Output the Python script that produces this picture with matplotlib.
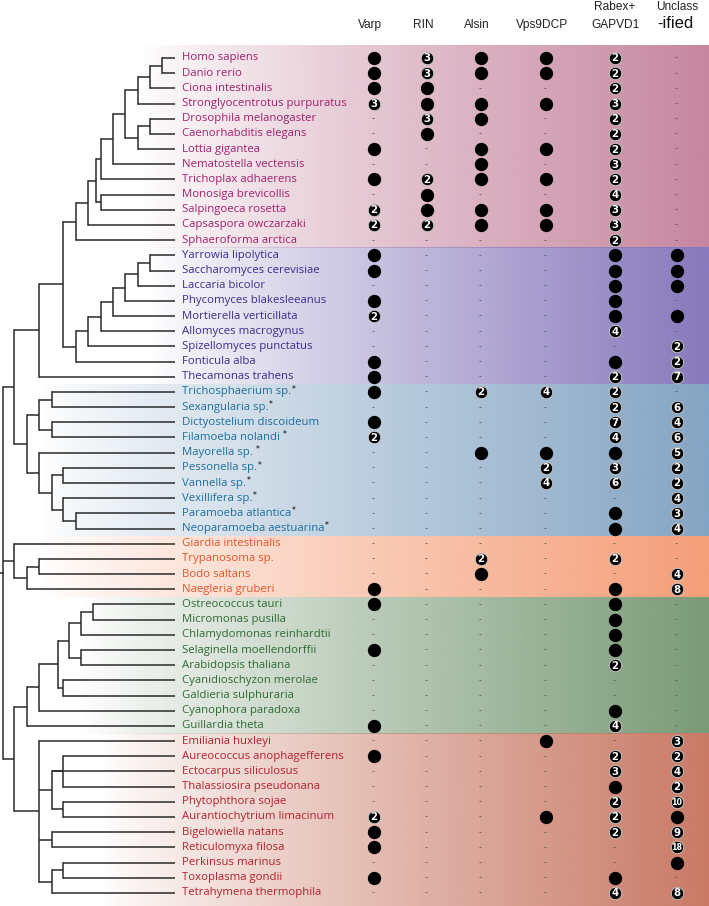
import numpy as np
import matplotlib
matplotlib.use("Agg")
import matplotlib.pyplot as plt
from matplotlib.colors import to_rgb

# ---------------- data ----------------
species = [
    "Homo sapiens", "Danio rerio", "Ciona intestinalis", "Stronglyocentrotus purpuratus",
    "Drosophila melanogaster", "Caenorhabditis elegans", "Lottia gigantea",
    "Nematostella vectensis", "Trichoplax adhaerens", "Monosiga brevicollis",
    "Salpingoeca rosetta", "Capsaspora owczarzaki", "Sphaeroforma arctica",
    "Yarrowia lipolytica", "Saccharomyces cerevisiae", "Laccaria bicolor",
    "Phycomyces blakesleeanus", "Mortierella verticillata", "Allomyces macrogynus",
    "Spizellomyces punctatus", "Fonticula alba", "Thecamonas trahens",
    "Trichosphaerium sp.", "Sexangularia sp.", "Dictyostelium discoideum",
    "Filamoeba nolandi", "Mayorella sp.", "Pessonella sp.", "Vannella sp.",
    "Vexillifera sp.", "Paramoeba atlantica", "Neoparamoeba aestuarina",
    "Giardia intestinalis", "Trypanosoma sp.", "Bodo saltans", "Naegleria gruberi",
    "Ostreococcus tauri", "Micromonas pusilla", "Chlamydomonas reinhardtii",
    "Selaginella moellendorffii", "Arabidopsis thaliana", "Cyanidioschyzon merolae",
    "Galdieria sulphuraria", "Cyanophora paradoxa", "Guillardia theta",
    "Emiliania huxleyi", "Aureococcus anophagefferens", "Ectocarpus siliculosus",
    "Thalassiosira pseudonana", "Phytophthora sojae", "Aurantiochytrium limacinum",
    "Bigelowiella natans", "Reticulomyxa filosa", "Perkinsus marinus",
    "Toxoplasma gondii", "Tetrahymena thermophila",
]
starred = ["Trichosphaerium sp.", "Sexangularia sp.", "Filamoeba nolandi", "Mayorella sp.",
           "Pessonella sp.", "Vannella sp.", "Vexillifera sp.", "Paramoeba atlantica",
           "Neoparamoeba aestuarina"]
star_gap = ["Filamoeba nolandi", "Mayorella sp."]

# 0 = absent ("-"), 1 = present (dot), n>=2 = number of copies
varp = [1, 1, 1, 3, 0, 0, 1, 0, 1, 0, 2, 2, 0,
        1, 1, 0, 1, 2, 0, 0, 1, 1,
        1, 0, 1, 2, 0, 0, 0, 0, 0, 0,
        0, 0, 0, 1,
        1, 0, 0, 1, 0, 0, 0, 0, 1,
        0, 1, 0, 0, 0, 2, 1, 1, 0, 1, 0]
rin = [3, 3, 1, 1, 3, 1, 0, 0, 2, 1, 1, 2, 0,
       0, 0, 0, 0, 0, 0, 0, 0, 0,
       0, 0, 0, 0, 0, 0, 0, 0, 0, 0,
       0, 0, 0, 0,
       0, 0, 0, 0, 0, 0, 0, 0, 0,
       0, 0, 0, 0, 0, 0, 0, 0, 0, 0, 0]
alsin = [1, 1, 0, 1, 1, 0, 1, 1, 1, 0, 1, 1, 0,
         0, 0, 0, 0, 0, 0, 0, 0, 0,
         2, 0, 0, 0, 1, 0, 0, 0, 0, 0,
         0, 2, 1, 0,
         0, 0, 0, 0, 0, 0, 0, 0, 0,
         0, 0, 0, 0, 0, 0, 0, 0, 0, 0, 0]
vps9dcp = [1, 1, 0, 1, 0, 0, 1, 0, 1, 0, 1, 1, 0,
           0, 0, 0, 0, 0, 0, 0, 0, 0,
           4, 0, 0, 0, 1, 2, 4, 0, 0, 0,
           0, 0, 0, 0,
           0, 0, 0, 0, 0, 0, 0, 0, 0,
           1, 0, 0, 0, 0, 1, 0, 0, 0, 0, 0]
rabex = [2, 2, 2, 3, 2, 2, 2, 3, 2, 4, 3, 3, 2,
         1, 1, 1, 1, 1, 4, 0, 1, 2,
         2, 2, 7, 4, 1, 3, 6, 0, 1, 1,
         0, 2, 0, 1,
         1, 1, 1, 1, 2, 0, 0, 1, 4,
         0, 2, 3, 1, 2, 2, 2, 0, 0, 1, 4]
unclassified = [0, 0, 0, 0, 0, 0, 0, 0, 0, 0, 0, 0, 0,
                1, 1, 1, 0, 1, 0, 2, 2, 7,
                0, 6, 4, 6, 5, 2, 2, 4, 3, 4,
                0, 0, 4, 8,
                0, 0, 0, 0, 0, 0, 0, 0, 0,
                3, 2, 4, 2, 10, 1, 9, 18, 1, 0, 8]
columns = ["Varp", "RIN", "Alsin", "Vps9DCP", "Rabex+\nGAPVD1", "Unclass\n-ified"]
column_values = [varp, rin, alsin, vps9dcp, rabex, unclassified]

group_sizes = [13, 9, 10, 4, 9, 11]
group_text_colors = ["#A3206F", "#3B2D8E", "#1E6E9C", "#E4572A", "#2F6B35", "#B3222E"]
group_band_colors = ["#C6869F", "#8779BC", "#84A5C4", "#F59E78", "#7A9B77", "#C97A66"]

# cladogram: (node depth, [children]); leaves are species names
holozoa = (76, [(88, [(96, [(101, [(113, [(125, [
    (138, [(150, [(162, ["Homo sapiens", "Danio rerio"]), "Ciona intestinalis"]),
           "Stronglyocentrotus purpuratus"]),
    (138, [(150, ["Drosophila melanogaster", "Caenorhabditis elegans"]), "Lottia gigantea"])]),
    "Nematostella vectensis"]), "Trichoplax adhaerens"]),
    (101, ["Monosiga brevicollis", "Salpingoeca rosetta"])]),
    "Capsaspora owczarzaki"]), "Sphaeroforma arctica"])
holomycota = (76, [(88, [(101, [(113, [(125, [(138, [(150, ["Yarrowia lipolytica",
    "Saccharomyces cerevisiae"]), "Laccaria bicolor"]), "Phycomyces blakesleeanus"]),
    "Mortierella verticillata"]), "Allomyces macrogynus"]), "Spizellomyces punctatus"]),
    "Fonticula alba"])
amoebozoa = (27, [
    (39, [(52, ["Trichosphaerium sp.", "Sexangularia sp."]),
          (52, ["Dictyostelium discoideum", "Filamoeba nolandi"])]),
    (39, ["Mayorella sp.", (52, [(63, ["Pessonella sp.", "Vannella sp."]),
                                 (63, ["Vexillifera sp.", (76, ["Paramoeba atlantica",
                                                                "Neoparamoeba aestuarina"])])])])])
amorphea = (14, [(39, [(63, [holozoa, holomycota]), "Thecamonas trahens"]), amoebozoa])
excavata = (14, ["Giardia intestinalis",
                 (27, [(39, ["Trypanosoma sp.", "Bodo saltans"]), "Naegleria gruberi"])])
archaeplastida = (27, [(39, [(58, [
    (69, [(81, [(93, ["Ostreococcus tauri", "Micromonas pusilla"]), "Chlamydomonas reinhardtii"]),
          (81, ["Selaginella moellendorffii", "Arabidopsis thaliana"])]),
    (63, ["Cyanidioschyzon merolae", "Galdieria sulphuraria"])]),
    "Cyanophora paradoxa"]), "Guillardia theta"])
sar = (39, ["Emiliania huxleyi",
            (52, [(63, ["Aureococcus anophagefferens", "Thalassiosira pseudonana"]),
                  "Ectocarpus siliculosus",
                  (63, ["Phytophthora sojae", "Aurantiochytrium limacinum"])]),
            (52, ["Bigelowiella natans", "Reticulomyxa filosa"]),
            (52, [(63, ["Perkinsus marinus", "Toxoplasma gondii"]), "Tetrahymena thermophila"])])
tree = (3, [amorphea, excavata, (14, [archaeplastida, sar])])

# ---------------- layout ----------------
W, H = 709, 906
ROW0, ROWH = 58.0, 15.18
LEAF_X, TEXT_X = 175, 182
col_x = [374, 427, 481, 546, 615, 677]
band_left = [140, 150, 40, 40, 80, 100]

fig = plt.figure(figsize=(W / 100, H / 100), dpi=100)
ax = fig.add_axes([0, 0, 1, 1])
ybot = (H - ROW0) / ROWH
ytop = (0 - ROW0) / ROWH
ax.set_xlim(0, W)
ax.set_ylim(ybot, ytop)
ax.axis("off")

def py(p):
    return (p - ROW0) / ROWH

# gradient bands
start = 0
for k, n in enumerate(group_sizes):
    top = py(45) if k == 0 else start - 0.5
    bottom = ybot if k == len(group_sizes) - 1 else start + n - 0.5
    rgb = np.array(to_rgb(group_band_colors[k]))
    N = 256
    img = np.zeros((1, N, 4))
    img[0, :, :3] = rgb
    t = np.linspace(0, 1, N)
    img[0, :, 3] = t ** 0.85
    ax.imshow(img, extent=[band_left[k], W, bottom, top], aspect="auto",
              interpolation="bilinear", zorder=0)
    start += n
ax.set_xlim(0, W)
ax.set_ylim(ybot, ytop)

# tree
row_of = {name: i for i, name in enumerate(species)}
LC, LW = "#2a2a2a", 1.1

def draw(node):
    if isinstance(node, str):
        return LEAF_X, row_of[node]
    x, children = node
    pts = [draw(c) for c in children]
    ys = [p[1] for p in pts]
    for cx, cy in pts:
        ax.plot([x, cx], [cy, cy], color=LC, lw=LW, solid_capstyle="butt", zorder=2)
    ax.plot([x, x], [min(ys), max(ys)], color=LC, lw=LW, solid_capstyle="projecting", zorder=2)
    return x, (min(ys) + max(ys)) / 2

rx, ry = draw(tree)
ax.plot([0, rx], [ry, ry], color=LC, lw=LW, zorder=2)

# species names
fig.canvas.draw()
renderer = fig.canvas.get_renderer()
idx = 0
for k, n in enumerate(group_sizes):
    for i in range(idx, idx + n):
        t = ax.text(TEXT_X, i, species[i], color=group_text_colors[k], fontsize=8.2,
                    family="Open Sans", ha="left", va="center", zorder=3)
        if species[i] in starred:
            bb = t.get_window_extent(renderer)
            xe = ax.transData.inverted().transform((bb.x1, bb.y1))[0]
            gap = 3.0 if species[i] in star_gap else 0.5
            ax.text(xe + gap, i - 0.18, "*", fontsize=5.5, color="black",
                    family="DejaVu Sans", ha="left", va="center", zorder=3)
    idx += n

# headers
HF = 8.6
for j, lab in enumerate(columns):
    if "\n" in lab:
        a, b = lab.split("\n")
        ax.text(col_x[j], py(7), a, ha="center", va="center", fontsize=HF,
                family="Liberation Sans", color="#222")
        if b.startswith("-"):
            ax.text(col_x[j] - 2, py(24), b, ha="center", va="center", fontsize=12,
                    family="Liberation Sans", color="#111")
        else:
            ax.text(col_x[j], py(25), b, ha="center", va="center", fontsize=HF,
                    family="Liberation Sans", color="#222")
    else:
        ax.text(col_x[j] - 4, py(25), lab, ha="center", va="center", fontsize=HF,
                family="Liberation Sans", color="#222")

# table entries
for j, vals in enumerate(column_values):
    xs = col_x[j]
    for i, v in enumerate(vals):
        if v == 0:
            ax.text(xs - 1, i, "-", ha="center", va="center", fontsize=6,
                    color="#555555", family="DejaVu Sans", zorder=3)
        elif v == 1:
            ax.scatter([xs], [i], s=92, color="black", linewidths=0, zorder=4)
        else:
            ax.scatter([xs], [i], s=80, color="black", edgecolors="#cccccc",
                       linewidths=0.6, zorder=4)
            ax.text(xs, i + 0.03, str(v), ha="center", va="center",
                    fontsize=7.4 if v < 10 else 5.8, fontweight="bold",
                    color="white", family="DejaVu Sans", zorder=5)

fig.savefig("out.png", dpi=100)
